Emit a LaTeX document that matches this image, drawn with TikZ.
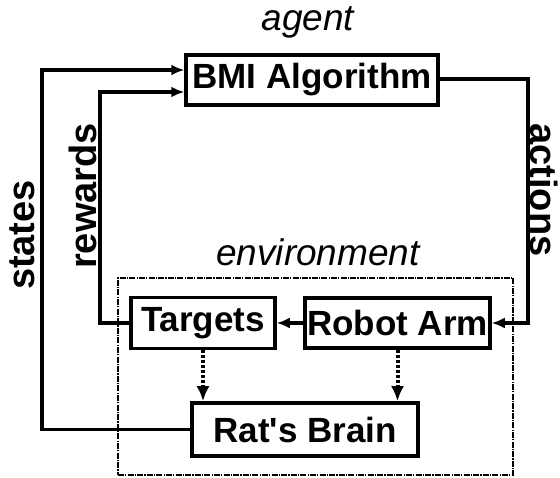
\documentclass[tikz,border=0pt]{standalone}
\usepackage{fontspec}
\setmainfont{Liberation Sans}
\usetikzlibrary{arrows.meta}
\usetikzlibrary{math}

\begin{document}
\begin{tikzpicture}[x=1pt,y=-1pt,
  blk/.style={draw, line width=3.5pt, inner sep=0pt, font=\fontsize{35}{40}\selectfont\bfseries},
  conn/.style={line width=3.5pt, -{Latex[length=13pt,width=11pt]}},
  dep/.style={line width=4pt, dash pattern=on 3pt off 2pt, -{Latex[length=15pt,width=13pt]}},
  side/.style={inner sep=0pt, font=\fontsize{38}{42}\selectfont\bfseries},
  title/.style={inner sep=0pt, font=\fontsize{37}{40}\selectfont\itshape}]
\tikzmath{
\xs=42;
\xr=100;
\xa=528;
}
\useasboundingbox (0,0) rectangle (560,478);

%environment box
 \node[draw, line width=1.6pt, dash pattern=on 6pt off 1.2pt on 1.2pt off 1.2pt,
   minimum width=395pt, minimum height=197pt, inner sep=0pt] (env) at (315.5,376.5) {};
 \node[title] (envlbl) at (318,252) {environment};
%blocks
 \node[blk, minimum width=252pt, minimum height=50pt] (bmi) at (312,80) {BMI Algorithm};
 \node[title] (agent) at (308,22) {agent};
 \node[blk, minimum width=144pt, minimum height=51pt] (targets) at (203,323) {Targets};
 \node[blk, minimum width=185pt, minimum height=50pt] (arm) at (397.5,323) {Robot Arm};
 \node[blk, minimum width=226pt, minimum height=53pt] (brain) at (305,429.5) {Rat\textquotesingle s Brain};

%loop lines
 \coordinate (sturn) at (\xs,70);
 \coordinate (rturn) at (\xr,92);
 \coordinate (aturn) at (\xa,79);
 \draw[conn] (brain.west) -| (sturn) -- ([yshift=10pt]bmi.west);
 \draw[conn] (targets.west) -| (rturn) -- ([yshift=-12pt]bmi.west);
 \draw[conn] ([yshift=1pt]bmi.east) -- (aturn) |- (arm.east);
 \draw[conn] (arm.west) -- (targets.east);
%inside the environment
 \draw[dep] (targets.south) -- (targets.south |- brain.north);
 \draw[dep] (arm.south) -- (arm.south |- brain.north);

 \node[side, rotate=90] (states) at (22,235) {states};
 \node[side, rotate=90] (rewards) at (83,196) {rewards};
 \node[side, rotate=-90] (actions) at (544,190) {actions};
\end{tikzpicture}
\end{document}
